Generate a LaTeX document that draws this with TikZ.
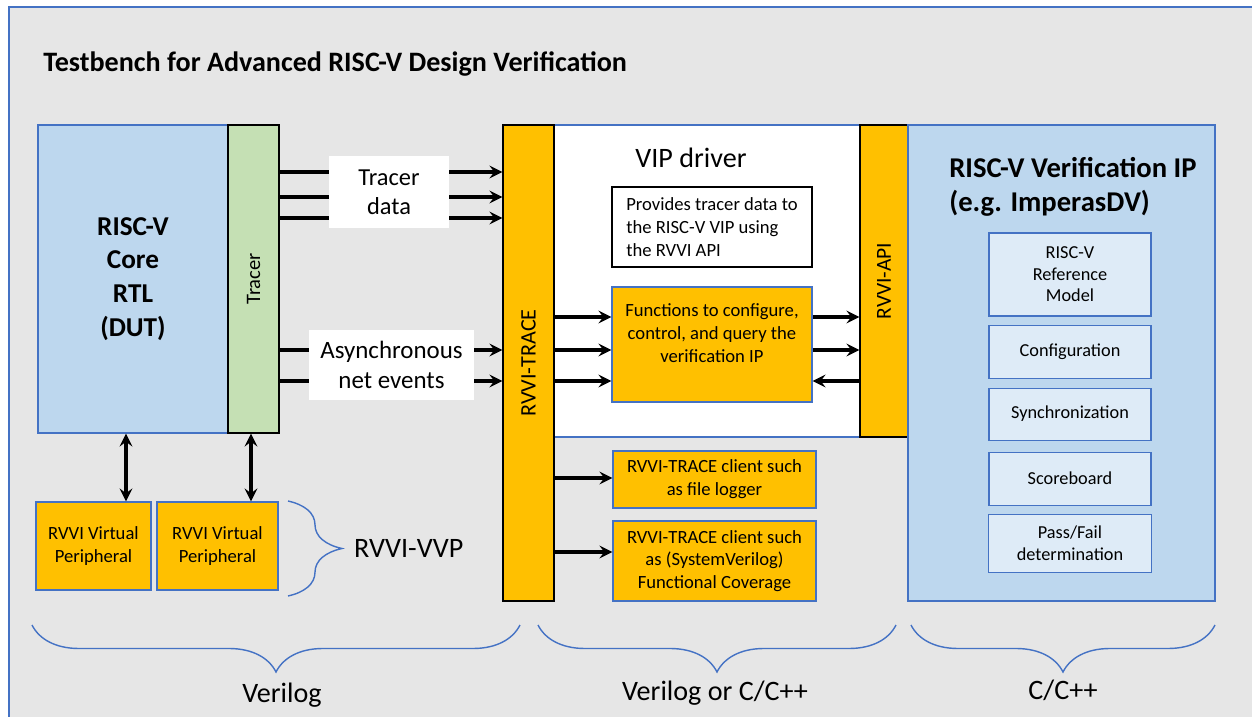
\documentclass[tikz,border=0pt]{standalone}
\usepackage{fontspec}
\setmainfont{Carlito}
\usepackage[dvipsnames]{xcolor}
\usetikzlibrary{positioning,decorations.pathreplacing}

\definecolor{bggray}{HTML}{E6E6E6}
\definecolor{ppblue}{HTML}{4472C4}
\definecolor{ppgold}{HTML}{FFC000}
\definecolor{pplight}{HTML}{BDD7EE}
\definecolor{pppale}{HTML}{DEEBF7}
\definecolor{ppgreen}{HTML}{C5E0B4}

\begin{document}
\begin{tikzpicture}[x=0.02cm,y=-0.02cm,>=stealth,
  box/.style 2 args={draw=ppblue,line width=0.6pt,minimum width=#1*0.02cm,minimum height=#2*0.02cm,inner sep=0pt,align=center},
  bar/.style 2 args={box={#1}{#2},draw=black,fill=ppgold},
  sub box/.style 2 args={box={#1}{#2},fill=pppale,font=\fontsize{10.4}{12.2}\selectfont},
  big font/.style={font=\fontsize{16}{19}\selectfont},
  small font/.style={font=\fontsize{10.6}{13}\selectfont},
  arr/.style={->,line width=2.2pt},
  brace line/.style={draw=ppblue,line width=0.8pt,decorate,decoration={brace,amplitude=#1}}]
            \useasboundingbox (0,0) rectangle (1252,717);
            \fill[bggray] (9,7) rectangle (1262,727);
            \draw[ppblue,line width=0.6pt] (1262,7) -- (9,7) -- (9,727);

            \node[anchor=west,inner sep=0pt,font=\bfseries\fontsize{16}{19}\selectfont] (0) at (43,64) {Testbench for Advanced RISC-V Design Verification};

            % left side: core and tracer
            \node[box={190}{308},fill=pplight,font=\bfseries\fontsize{15.5}{19.3}\selectfont] (1) at (133,279) {RISC-V\\Core\\RTL\\(DUT)};
            \node[box={51}{308},draw=black,fill=ppgreen] (2) at (253.5,279) {};
            \node[rotate=90,font=\fontsize{11.7}{14}\selectfont] at (2) {Tracer};

            % middle: VIP driver
            \node[box={306}{312},fill=white] (5) at (707,281) {};
            \node[big font] at (691,158) {VIP driver};
            \node[bar={51}{476}] (3) at (528.5,363) {};
            \node[rotate=90,font=\fontsize{12.6}{14}\selectfont] at (3) {RVVI-TRACE};
            \node[bar={48}{312}] (4) at (884,281) {};
            \node[rotate=90,font=\fontsize{12.2}{14}\selectfont] at (4) {RVVI-API};

            \node[box={200}{80},draw=black,fill=white,align=left,small font] (8) at (712,227) {Provides tracer data to\\the RISC-V VIP using\\the RVVI API};
            \node[box={200}{115},fill=ppgold] (9) at (712,344.5) {};
            \node[align=center,small font] at (712,333) {Functions to configure,\\control, and query the\\verification IP};
            \node[box={203}{57},fill=ppgold,small font] (10) at (714.5,479.5) {RVVI-TRACE client such\\as file logger};
            \node[box={203}{80},fill=ppgold,small font] (11) at (714.5,561) {RVVI-TRACE client such\\as (SystemVerilog)\\Functional Coverage};

            % right side: verification IP
            \node[box={307}{476},fill=pplight] (6) at (1061.5,363) {};
            \node[anchor=west,inner sep=0pt,align=left,font=\bfseries\fontsize{16.3}{19}\selectfont] at (949,187) {RISC-V Verification IP\\(e.g. ImperasDV)};
            \node[sub box={162}{83}] (7) at (1070,274.5) {RISC-V\\Reference\\Model};
            \node[sub box={162}{53},below=0.16cm of 7] (20) {Configuration};
            \node[sub box={162}{52},below=0.18cm of 20] (21) {Synchronization};
            \node[sub box={162}{53},below=0.22cm of 21] (22) {Scoreboard};
            \node[sub box={163}{58},below=0.16cm of 22] (23) {Pass/Fail\\determination};

            % virtual peripherals
            \node[box={115}{88},fill=ppgold,small font] (12) at (93.5,546) {RVVI Virtual\\Peripheral};
            \node[box={121}{88},fill=ppgold,small font] (13) at (217.5,546) {RVVI Virtual\\Peripheral};

            \foreach \y in {172,197,218,350,381}
                \draw[arr] (2.east |- 0,\y) -- (3.west |- 0,\y);
            \foreach \y in {317,350,381}
                \draw[arr] (3.east |- 0,\y) -- (9.west |- 0,\y);
            \foreach \y in {317,350}
                \draw[arr] (9.east |- 0,\y) -- (4.west |- 0,\y);
            \draw[arr] (4.west |- 0,381) -- (9.east |- 0,381);
            \draw[arr] (3.east |- 0,478) -- (10.west |- 0,478);
            \draw[arr] (3.east |- 0,552) -- (11.west |- 0,552);
            \draw[arr,<->] (1.south -| 126,0) -- (12.north -| 126,0);
            \draw[arr,<->] (2.south -| 251,0) -- (13.north -| 251,0);

            \node[box={120}{72},draw=none,fill=white,font=\fontsize{13.9}{16.5}\selectfont] (14) at (389,192) {Tracer\\data};
            \node[box={165}{70},draw=none,fill=white,font=\fontsize{14.2}{17}\selectfont] (15) at (391.5,365) {Asynchronous\\net events};

            % braces
            \draw[brace line=1.08cm] (288,501) -- (288,596);
            \node[anchor=west,big font] (16) at (348,548) {RVVI-VVP};
            \draw[brace line=0.94cm] (520,625) -- (32,625);
            \node[big font] (17) at (282,695) {Verilog};
            \draw[brace line=0.94cm] (896,625) -- (538,625);
            \node[big font] (18) at (715,693) {Verilog or C/C++};
            \draw[brace line=0.94cm] (1215,625) -- (911,625);
            \node[big font] (19) at (1063,690) {C/C++};
        \end{tikzpicture}
\end{document}
